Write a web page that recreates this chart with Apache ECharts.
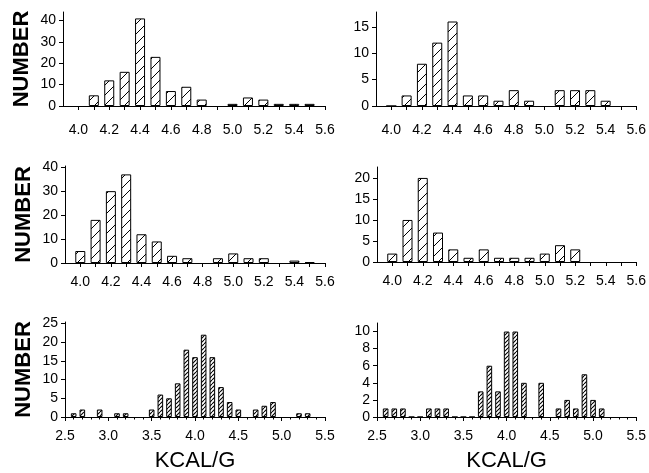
<!DOCTYPE html>
<html><head><meta charset="utf-8">
<script src="https://cdn.jsdelivr.net/npm/echarts@6/dist/echarts.min.js"></script>
<style>html,body{margin:0;padding:0;background:#fff}#c{width:649px;height:473px}</style>
</head><body><div id="c"></div><script>
// ---- data ----
const upperBins = [4.0,4.1,4.2,4.3,4.4,4.5,4.6,4.7,4.8,4.9,5.0,5.1,5.2,5.3,5.4,5.5];
const topLeftCounts  = [null,5,12,16,41,23,7,9,3,null,1,4,3,1,1,1];
const topRightCounts = [0,2,8,12,16,2,2,1,3,1,null,3,3,3,1,null];
const midLeftCounts  = [5,18,30,37,12,9,3,2,null,2,4,2,2,null,1,0.4];
const midRightCounts = [2,10,20,7,3,1,3,1,1,1,2,4,3,null,null,null];
const lowerBins = [2.6,2.7,2.8,2.9,3.0,3.1,3.2,3.3,3.4,3.5,3.6,3.7,3.8,3.9,4.0,4.1,4.2,4.3,4.4,4.5,4.6,4.7,4.8,4.9,5.0,5.1,5.2,5.3];
const lowLeftCounts  = [1,2,null,2,null,1,1,null,null,2,6,5,9,18,16,22,16,8,4,2,null,2,3,4,null,null,1,1];
const lowRightCounts = [1,1,1,0,0,1,1,1,0,0,0,3,6,3,10,10,4,null,4,null,1,2,1,5,2,1,null,null];
const upperXLabels = [4.0,4.2,4.4,4.6,4.8,5.0,5.2,5.4,5.6];
const upperXTicks = [4.0,4.1,4.2,4.3,4.4,4.5,4.6,4.7,4.8,4.9,5.0,5.1,5.2,5.3,5.4,5.5,5.6];
const lowerXLabels = [2.5,3.0,3.5,4.0,4.5,5.0,5.5];
const yLabelsTL = [0,10,20,30,40];
const yLabelsTR = [0,5,10,15];
const yLabelsML = [0,10,20,30,40];
const yLabelsMR = [0,5,10,15,20];
const yLabelsBL = [0,5,10,15,20,25];
const yLabelsBR = [0,2,4,6,8,10];
const yAxisTitle = 'NUMBER';
const xAxisTitle = 'KCAL/G';

function hatch(p, lw) {
  const c = document.createElement('canvas'); c.width = p; c.height = p;
  const g = c.getContext('2d');
  g.fillStyle = '#fff'; g.fillRect(0, 0, p, p);
  g.strokeStyle = '#000'; g.lineWidth = lw;
  g.beginPath();
  for (const o of [-p, 0, p]) { g.moveTo(o, p); g.lineTo(o + p, 0); }
  g.stroke();
  return c;
}
const wideHatch = hatch(10, 1);
const fineHatch = hatch(4, 1.1);

const FONT = 'Liberation Sans, Arial, Helvetica, sans-serif';
const grids = [
  {left: 63, top: 12, width: 262, height: 94},
  {left: 376, top: 12, width: 261, height: 94},
  {left: 65, top: 166, width: 260, height: 97},
  {left: 377, top: 167, width: 260, height: 95},
  {left: 65, top: 322, width: 260, height: 96},
  {left: 377, top: 323, width: 260, height: 95}
];
const panels = [
  {bins: upperBins, counts: topLeftCounts, ymax: 44, yl: yLabelsTL, upper: true, title: true, lm: 17},
  {bins: upperBins, counts: topRightCounts, ymax: 17.8, yl: yLabelsTR, upper: true, title: false, lm: 17},
  {bins: upperBins, counts: midLeftCounts, ymax: 40.5, yl: yLabelsML, upper: true, title: true, lm: 12},
  {bins: upperBins, counts: midRightCounts, ymax: 22.6, yl: yLabelsMR, upper: true, title: false, lm: 12},
  {bins: lowerBins, counts: lowLeftCounts, ymax: 25.4, yl: yLabelsBL, upper: false, title: true, lm: 12},
  {bins: lowerBins, counts: lowRightCounts, ymax: 11, yl: yLabelsBR, upper: false, title: false, lm: 12}
];
const axisLine = {show: true, onZero: false, lineStyle: {color: '#000', width: 1}};
const xAxes = [], yAxes = [], series = [];
panels.forEach((p, i) => {
  const x = {
    type: 'value', gridIndex: i, axisLine,
    splitLine: {show: false},
    axisLabel: {color: '#000', fontSize: 14, fontFamily: FONT, margin: p.lm,
      formatter: v => Number(v).toFixed(1)},
    axisTick: {show: true, inside: false, length: 4, lineStyle: {color: '#000'}}
  };
  if (p.upper) {
    x.min = 3.9; x.max = 5.6;
    x.axisLabel.customValues = upperXLabels;
    x.axisTick.customValues = upperXTicks;
  } else {
    x.min = 2.5; x.max = 5.5; x.interval = 0.5;
    x.axisLabel.customValues = lowerXLabels;
    x.minorTick = {show: true, splitNumber: 5, length: 2.5, lineStyle: {color: '#000'}};
    x.name = xAxisTitle; x.nameLocation = 'middle'; x.nameGap = 33;
    x.nameTextStyle = {fontSize: 22, fontFamily: FONT, color: '#000'};
  }
  xAxes.push(x);
  const y = {
    type: 'value', gridIndex: i, min: 0, max: p.ymax, axisLine,
    splitLine: {show: false},
    axisLabel: {color: '#000', fontSize: 14, fontFamily: FONT, margin: 7, customValues: p.yl},
    axisTick: {show: true, length: 4, customValues: p.yl, lineStyle: {color: '#000'}}
  };
  if (p.title) {
    y.name = yAxisTitle; y.nameLocation = 'middle'; y.nameGap = 30; y.nameRotate = 90;
    y.nameTextStyle = {fontSize: 22, fontWeight: 'bold', fontFamily: FONT, color: '#000'};
  }
  yAxes.push(y);
  const data = [];
  p.bins.forEach((b, k) => { if (p.counts[k] !== null) data.push([b, p.counts[k]]); });
  series.push({
    type: 'bar', xAxisIndex: i, yAxisIndex: i, data,
    barWidth: p.upper ? 10 : 5.6,
    silent: true, animation: false,
    itemStyle: {color: {image: p.upper ? wideHatch : fineHatch, repeat: 'repeat'},
      borderColor: '#000', borderWidth: 1}
  });
});
const chart = echarts.init(document.getElementById('c'), null, {renderer: 'canvas'});
chart.setOption({animation: false, grid: grids, xAxis: xAxes, yAxis: yAxes, series});
</script></body></html>
